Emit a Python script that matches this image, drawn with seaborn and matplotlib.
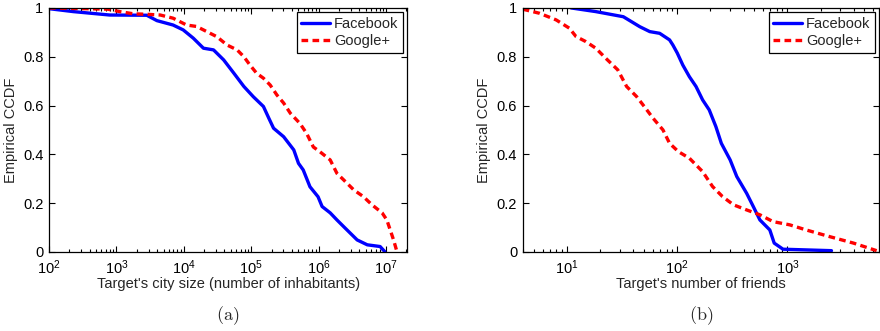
import numpy as np
import pandas as pd
import matplotlib
matplotlib.use("Agg")
import matplotlib.pyplot as plt
import seaborn as sns
from matplotlib.ticker import LogLocator, NullFormatter

# ---- data ----
# (a) city size, log10 of x and CCDF
city_fb_logx = [2.0, 2.36, 2.9, 3.45, 3.6, 3.84, 3.99, 4.14, 4.29, 4.44, 4.59, 4.74, 4.89,
                5.03, 5.18, 5.26, 5.33, 5.48, 5.63, 5.70, 5.77, 5.87, 5.99, 6.05, 6.17,
                6.27, 6.39, 6.57, 6.72, 6.91, 6.98]
city_fb_ccdf = [0.997, 0.985, 0.971, 0.970, 0.948, 0.930, 0.910, 0.876, 0.835, 0.828, 0.787,
                0.733, 0.678, 0.636, 0.596, 0.548, 0.507, 0.472, 0.418, 0.363, 0.336, 0.267,
                0.226, 0.186, 0.160, 0.131, 0.098, 0.049, 0.029, 0.022, 0.001]
city_gp_logx = [2.0, 2.87, 3.05, 3.25, 3.45, 3.65, 3.84, 4.04, 4.19, 4.34, 4.49, 4.64, 4.79,
                4.89, 4.98, 5.08, 5.18, 5.28, 5.38, 5.48, 5.58, 5.72, 5.82, 5.92, 6.02,
                6.17, 6.27, 6.37, 6.52, 6.66, 6.79, 6.94, 7.01, 7.06, 7.11, 7.16]
city_gp_ccdf = [1.0, 0.995, 0.985, 0.976, 0.974, 0.971, 0.958, 0.930, 0.924, 0.903, 0.882,
                0.848, 0.828, 0.800, 0.766, 0.732, 0.712, 0.684, 0.643, 0.610, 0.568, 0.527,
                0.486, 0.430, 0.410, 0.377, 0.322, 0.295, 0.254, 0.227, 0.193, 0.160, 0.131,
                0.090, 0.049, 0.001]

# (b) number of friends, log10 of x and CCDF
fr_fb_logx = [1.036, 1.26, 1.51, 1.66, 1.75, 1.84, 1.93, 1.96, 2.0, 2.05, 2.11, 2.17, 2.23,
              2.29, 2.35, 2.40, 2.48, 2.54, 2.63, 2.69, 2.75, 2.84, 2.88, 2.96, 3.40]
fr_fb_ccdf = [1.0, 0.985, 0.964, 0.923, 0.903, 0.896, 0.869, 0.848, 0.815, 0.766, 0.718,
              0.678, 0.623, 0.582, 0.514, 0.445, 0.377, 0.309, 0.240, 0.186, 0.131, 0.090,
              0.036, 0.011, 0.005]
fr_gp_logx = [0.596, 0.75, 0.9, 1.02, 1.08, 1.17, 1.26, 1.35, 1.46, 1.54, 1.63, 1.70, 1.78,
              1.87, 1.93, 2.01, 2.11, 2.23, 2.32, 2.41, 2.51, 2.63, 2.75, 2.87, 3.02, 3.17,
              3.38, 3.60, 3.81]
fr_gp_ccdf = [0.995, 0.978, 0.951, 0.917, 0.883, 0.862, 0.835, 0.794, 0.746, 0.678, 0.637,
              0.596, 0.548, 0.500, 0.445, 0.411, 0.384, 0.329, 0.268, 0.227, 0.193, 0.172,
              0.152, 0.124, 0.111, 0.090, 0.063, 0.036, 0.005]

series_names = ["Facebook", "Google+"]
x_labels = ["Target's city size (number of inhabitants)", "Target's number of friends"]
y_label = "Empirical CCDF"
panel_labels = ["(a)", "(b)"]
yticks = [0, 0.2, 0.4, 0.6, 0.8, 1]
ytick_labels = ["0", "0.2", "0.4", "0.6", "0.8", "1"]


def make_df(fbx, fby, gpx, gpy):
    return pd.concat([
        pd.DataFrame({"x": 10 ** np.array(fbx), "y": fby, "src": series_names[0]}),
        pd.DataFrame({"x": 10 ** np.array(gpx), "y": gpy, "src": series_names[1]}),
    ], ignore_index=True)


df_a = make_df(city_fb_logx, city_fb_ccdf, city_gp_logx, city_gp_ccdf)
df_b = make_df(fr_fb_logx, fr_fb_ccdf, fr_gp_logx, fr_gp_ccdf)

sns.set_style("ticks")
plt.rcParams["font.family"] = ["Liberation Sans", "DejaVu Sans"]
plt.rcParams["mathtext.fontset"] = "cm"
plt.rcParams["xtick.direction"] = "in"
plt.rcParams["ytick.direction"] = "in"

fig = plt.figure(figsize=(8.8, 3.31), dpi=100)
ax_a = fig.add_axes([0.0557, 0.239, 0.407, 0.737])
ax_b = fig.add_axes([0.594, 0.239, 0.405, 0.737])

palette = {"Facebook": (0, 0, 1), "Google+": (1, 0, 0)}
dashes = {"Facebook": "", "Google+": (2.0, 1.3)}

for ax, df, xlim, xl, pl in [(ax_a, df_a, (1e2, 2.05e7), x_labels[0], panel_labels[0]),
                             (ax_b, df_b, (3.95, 6.8e3), x_labels[1], panel_labels[1])]:
    sns.lineplot(data=df, x="x", y="y", hue="src", style="src", palette=palette,
                 dashes=dashes, linewidth=2.4, sort=False, estimator=None, ax=ax)
    ax.set_xscale("log")
    ax.set_xlim(*xlim)
    ax.set_ylim(0, 1)
    ax.set_yticks(yticks)
    ax.set_yticklabels(ytick_labels)
    ax.xaxis.set_major_locator(LogLocator(base=10, numticks=20))
    ax.xaxis.set_minor_locator(LogLocator(base=10, subs=np.arange(2, 10), numticks=20))
    ax.xaxis.set_minor_formatter(NullFormatter())
    ax.tick_params(axis="both", which="both", direction="in", top=True, right=True,
                   labelsize=10.5, colors="black", width=0.8)
    ax.tick_params(axis="both", which="major", length=4)
    ax.tick_params(axis="x", which="major", pad=5)
    ax.tick_params(axis="y", which="major", pad=4)
    ax.tick_params(axis="x", which="minor", length=2)
    for sp in ax.spines.values():
        sp.set_visible(True)
        sp.set_color("black")
        sp.set_linewidth(0.9)
    ax.set_xlabel(xl, fontsize=10.5, labelpad=0)
    ax.set_ylabel(y_label, fontsize=10.5, labelpad=4)
    leg = ax.legend(loc="upper right", fontsize=10.5, frameon=True, fancybox=False,
                    edgecolor="black", framealpha=1, handlelength=2.0, handletextpad=0.25,
                    borderpad=0.3, labelspacing=0.25, borderaxespad=0.3)
    leg.get_frame().set_linewidth(0.9)
    for h in leg.get_lines():
        h.set_linewidth(2.4)
    pos = ax.get_position()
    fig.text((pos.x0 + pos.x1) / 2, 1 - 316 / 331, r"$\mathrm{" + pl + "}$",
             ha="center", va="center", fontsize=13)

fig.savefig("out.png", dpi=100)
